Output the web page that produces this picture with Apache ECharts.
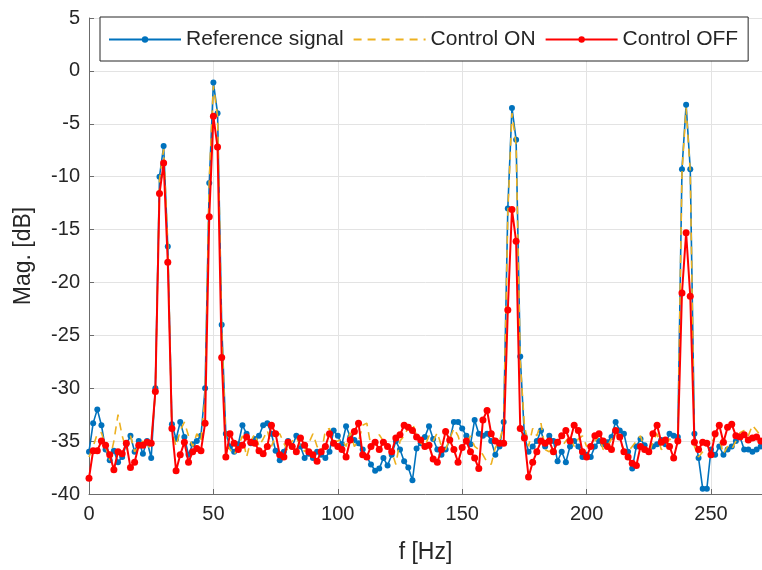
<!DOCTYPE html>
<html>
<head>
<meta charset="utf-8">
<script src="https://cdn.jsdelivr.net/npm/echarts@6/dist/echarts.min.js"></script>
<style>
html, body { margin: 0; padding: 0; background: #fff; }
#chart { width: 762px; height: 570px; }
</style>
</head>
<body>
<div id="chart"></div>
<script>
// frequency step of the spectrum (Hz)
var df = 5 / 3;
var xTicks = [0, 50, 100, 150, 200, 250];
var yTicks = [5, 0, -5, -10, -15, -20, -25, -30, -35, -40];

// magnitudes in dB, one value per bin (0 .. 270 Hz)
var refSignal = [
  -36.0, -33.3, -32.0, -33.5, -35.8, -36.8, -35.9, -37.0, -36.5, -35.3,
  -34.5, -36.0, -35.0, -36.2, -35.0, -36.6, -30.0, -10.0, -7.1, -16.6,
  -33.4, -34.8, -33.2, -34.6, -36.3, -35.3, -35.0, -34.5, -30.0, -10.6,
  -1.1, -4.0, -24.0, -34.3, -35.5, -36.0, -35.3, -33.5, -34.3, -35.2,
  -34.8, -34.5, -33.5, -33.3, -34.3, -35.9, -36.8, -36.0, -35.0, -35.5,
  -34.5, -35.5, -36.6, -36.2, -36.6, -36.0, -36.3, -36.6, -36.0, -34.0,
  -34.5, -35.3, -33.6, -34.6, -34.9, -35.2, -35.8, -36.5, -37.2, -37.8,
  -37.6, -36.6, -37.3, -36.3, -35.0, -35.8, -36.9, -37.5, -38.7, -35.7,
  -35.2, -34.6, -33.6, -34.8, -35.8, -36.3, -35.8, -34.9, -33.2, -33.2,
  -33.8, -34.5, -35.3, -33.0, -34.3, -34.5, -34.3, -35.0, -36.3, -35.5,
  -33.2, -13.0, -3.5, -6.5, -27.0, -34.5, -36.0, -35.5, -35.0, -34.0,
  -35.5, -34.5, -35.0, -36.9, -36.0, -37.0, -35.5, -35.0, -35.5, -36.5,
  -36.3, -36.5, -35.5, -35.0, -35.3, -35.1, -34.6, -33.2, -34.0, -34.3,
  -36.0, -37.6, -35.5, -34.8, -35.4, -36.0, -35.5, -35.3, -34.9, -35.3,
  -34.3, -34.5, -34.6, -9.3, -3.2, -9.3, -34.3, -36.6, -39.5, -39.5,
  -35.8, -36.3, -35.5, -36.3, -35.8, -35.5, -35.0, -34.6, -35.8, -35.8,
  -36.0, -35.8, -35.5
];

var controlOn = [
  -36.5, -35.5, -34.3, -34.2, -35.5, -36.8, -35.0, -32.5, -34.5, -35.8,
  -34.5, -36.0, -35.5, -35.0, -35.8, -35.2, -30.5, -10.3, -7.4, -16.3,
  -34.0, -35.5, -34.0, -33.2, -34.5, -35.5, -34.3, -35.0, -30.8, -10.3,
  -1.4, -4.3, -24.5, -35.0, -35.8, -36.3, -35.5, -34.5, -36.5, -35.0,
  -34.3, -35.5, -34.8, -34.0, -35.5, -34.5, -34.3, -35.2, -36.0, -35.0,
  -34.6, -35.5, -36.0, -35.2, -34.3, -35.5, -36.2, -34.0, -33.8, -35.0,
  -35.0, -34.8, -35.5, -34.2, -35.5, -35.0, -33.5, -33.3, -35.5, -35.0,
  -34.4, -35.0, -35.5, -36.0, -37.2, -35.0, -34.5, -33.7, -33.3, -34.5,
  -35.2, -35.5, -34.5, -35.0, -34.2, -35.5, -35.8, -34.8, -33.8, -34.5,
  -35.8, -35.2, -34.5, -35.5, -35.8, -36.3, -37.0, -37.2, -35.6, -35.0,
  -33.5, -13.5, -4.0, -7.0, -27.5, -33.5, -35.5, -33.8, -34.5, -33.3,
  -35.8, -36.0, -35.5, -35.0, -35.5, -35.0, -34.5, -35.5, -34.8, -34.5,
  -35.5, -35.3, -35.0, -34.5, -35.8, -35.5, -34.8, -34.2, -35.0, -35.8,
  -36.0, -35.5, -35.0, -34.5, -35.8, -36.3, -35.0, -34.3, -35.8, -35.5,
  -34.8, -35.0, -35.2, -9.6, -3.5, -9.6, -35.5, -36.5, -36.0, -35.0,
  -35.3, -34.5, -34.8, -36.2, -35.5, -35.8, -35.0, -34.2, -34.0, -34.5,
  -33.5, -34.0, -34.5
];

var controlOff = [
  -38.5, -35.9, -35.9, -35.0, -35.4, -36.3, -37.7, -36.0, -36.2, -35.2,
  -37.5, -37.0, -35.4, -35.4, -35.1, -35.2, -30.3, -11.6, -8.7, -18.1,
  -33.8, -37.8, -36.3, -35.1, -37.0, -36.0, -35.7, -35.9, -33.3, -13.8,
  -4.3, -7.2, -27.1, -36.5, -34.3, -35.2, -35.8, -35.4, -34.6, -35.1,
  -35.2, -35.9, -36.2, -35.5, -33.5, -34.3, -36.3, -36.5, -35.1, -35.5,
  -36.0, -34.7, -35.4, -36.0, -36.3, -36.9, -36.0, -35.5, -34.3, -35.2,
  -35.5, -35.8, -36.5, -34.9, -34.1, -33.3, -36.3, -36.5, -35.5, -35.1,
  -35.8, -35.1, -35.5, -36.0, -34.7, -34.4, -33.5, -33.7, -34.0, -34.6,
  -34.9, -35.5, -35.4, -36.7, -37.0, -35.8, -34.1, -34.9, -35.8, -37.0,
  -35.6, -35.0, -36.0, -36.6, -37.6, -33.0, -32.1, -34.3, -35.0, -35.2,
  -35.2, -22.6, -13.1, -16.1, -33.8, -34.7, -38.4, -37.0, -36.0, -35.0,
  -35.2, -35.0, -36.0, -35.1, -34.5, -34.0, -35.0, -33.5, -34.0, -36.0,
  -36.5, -35.5, -34.5, -34.3, -35.0, -35.5, -35.8, -34.0, -34.6, -36.0,
  -36.5, -37.1, -37.3, -35.5, -35.8, -36.0, -34.3, -33.5, -35.1, -34.9,
  -35.5, -36.6, -35.0, -21.0, -15.3, -21.3, -35.1, -35.8, -35.1, -35.2,
  -36.3, -34.3, -33.5, -35.1, -33.7, -33.4, -34.5, -34.6, -34.4, -34.9,
  -34.7, -34.6, -35.0
];

function pairs(vals) {
  return vals.map(function (v, i) { return [i * df, v]; });
}

var fontFam = '"Liberation Sans", Arial, Helvetica, sans-serif';
var txtColor = '#262626';

var myChart = echarts.init(document.getElementById('chart'));
var option = {
    animation: false,
    backgroundColor: '#fff',
    textStyle: { fontFamily: fontFam },
    grid: {
        left: 89,
        right: 0,
        top: 18,
        bottom: 76
    },
    legend: {
        data: [
            { name: 'Reference signal' },
            { name: 'Control ON', itemStyle: { opacity: 0 } },
            { name: 'Control OFF' }
        ],
        left: 100,
        top: 17,
        padding: [12, 10, 11, 8],
        itemWidth: 72,
        itemHeight: 8,
        itemGap: 9,
        backgroundColor: '#fff',
        borderColor: '#262626',
        borderWidth: 1,
        textStyle: { fontSize: 21, color: txtColor, fontFamily: fontFam }
    },
    xAxis: {
        type: 'value',
        min: 0,
        max: 270.5,
        interval: 50,
        name: 'f [Hz]',
        nameLocation: 'middle',
        nameGap: 47,
        nameTextStyle: { fontSize: 23, color: txtColor, fontFamily: fontFam },
        axisLine: { show: true, onZero: false, lineStyle: { color: '#6b6b6b', width: 1 } },
        axisTick: { show: true, inside: true, length: 5, lineStyle: { color: '#6b6b6b' } },
        axisLabel: {
            fontSize: 20, color: txtColor, margin: 10, showMaxLabel: false,
            formatter: function (v) { return xTicks.indexOf(v) >= 0 ? String(v) : ''; }
        },
        splitLine: { show: true, lineStyle: { color: '#e3e3e3', width: 1 } }
    },
    yAxis: {
        type: 'value',
        min: -40,
        max: 5,
        interval: 5,
        name: 'Mag. [dB]',
        nameLocation: 'middle',
        nameGap: 54,
        nameTextStyle: { fontSize: 23, color: txtColor, fontFamily: fontFam },
        axisLine: { show: true, lineStyle: { color: '#6b6b6b', width: 1 } },
        axisTick: { show: true, inside: true, length: 5, lineStyle: { color: '#6b6b6b' } },
        axisLabel: {
            fontSize: 20, color: txtColor, margin: 9,
            formatter: function (v) { return yTicks.indexOf(v) >= 0 ? String(v) : ''; }
        },
        splitLine: { show: true, lineStyle: { color: '#e3e3e3', width: 1 } }
    },
    series: [
        {
            name: 'Reference signal',
            type: 'line',
            data: pairs(refSignal),
            symbol: 'circle',
            symbolSize: 6,
            itemStyle: { color: '#0072BD' },
            lineStyle: { color: '#0072BD', width: 1.6 },
            z: 2
        },
        {
            name: 'Control ON',
            type: 'line',
            data: pairs(controlOn),
            symbol: 'none',
            itemStyle: { color: '#EDB120' },
            lineStyle: { color: '#EDB120', width: 1.6, type: [8, 6] },
            z: 3
        },
        {
            name: 'Control OFF',
            type: 'line',
            data: pairs(controlOff),
            symbol: 'circle',
            symbolSize: 7,
            itemStyle: { color: '#FF0000' },
            lineStyle: { color: '#FF0000', width: 2 },
            z: 4
        }
    ]
};
myChart.setOption(option);
</script>
</body>
</html>
